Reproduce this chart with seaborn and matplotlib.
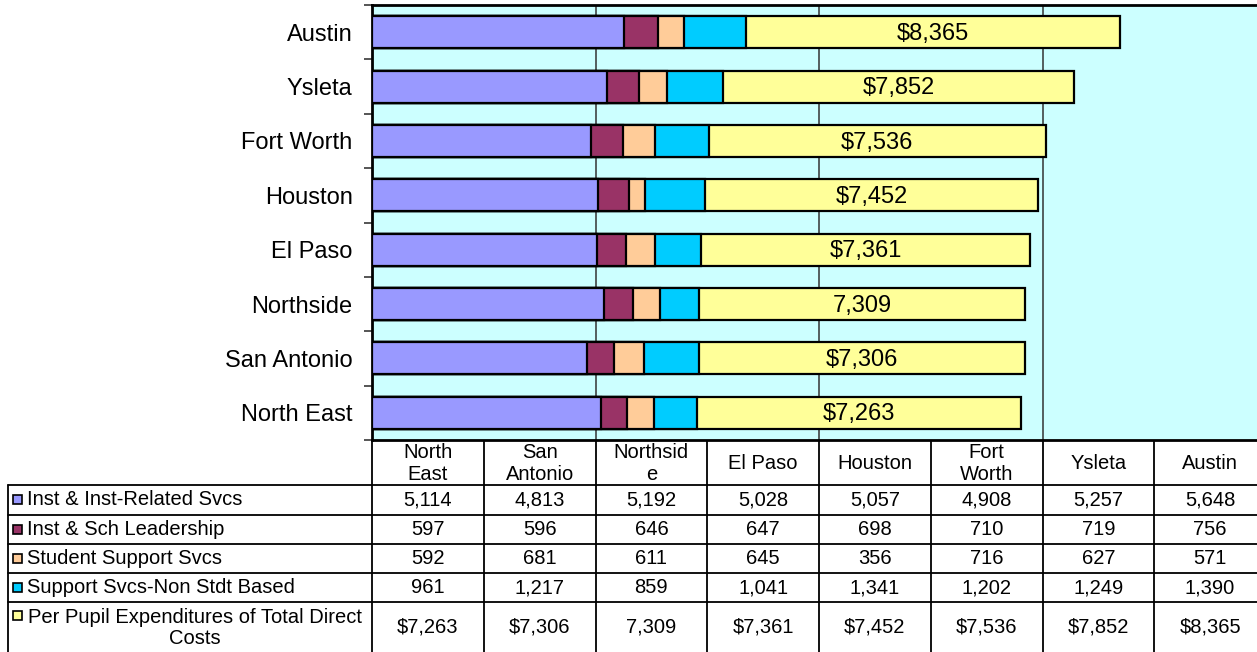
import numpy as np
import pandas as pd
import seaborn as sns
import matplotlib.pyplot as plt
from matplotlib.patches import Rectangle

# data, in table order (left to right)
districts = ["North East", "San Antonio", "Northside", "El Paso",
             "Houston", "Fort Worth", "Ysleta", "Austin"]
header_labels = ["North\nEast", "San\nAntonio", "Northsid\ne", "El Paso",
                 "Houston", "Fort\nWorth", "Ysleta", "Austin"]
inst = [5114, 4813, 5192, 5028, 5057, 4908, 5257, 5648]
leadership = [597, 596, 646, 647, 698, 710, 719, 756]
student_support = [592, 681, 611, 645, 356, 716, 627, 571]
support_non_stdt = [961, 1217, 859, 1041, 1341, 1202, 1249, 1390]
per_pupil = [7263, 7306, 7309, 7361, 7452, 7536, 7852, 8365]
per_pupil_labels = ["$7,263", "$7,306", "7,309", "$7,361",
                    "$7,452", "$7,536", "$7,852", "$8,365"]
series_names = ["Inst & Inst-Related Svcs", "Inst & Sch Leadership",
                "Student Support Svcs", "Support Svcs-Non Stdt Based",
                "Per Pupil Expenditures of Total Direct\nCosts"]
colors = ["#9999FF", "#993366", "#FFCC99", "#00CCFF", "#FFFF99"]

sns.set_style("white")
plt.rcParams["font.family"] = ["Liberation Sans", "DejaVu Sans"]
plt.rcParams["text.color"] = "black"
plt.rcParams["ytick.labelcolor"] = "black"

W, H = 1257, 652
fig = plt.figure(figsize=(W / 100, H / 100), dpi=100)
L, T, B, PW = 372, 5, 440, 894
ax = fig.add_axes([L / W, (H - B) / H, PW / W, (B - T) / H])

series = np.array([inst, leadership, student_support, support_non_stdt, per_pupil])
cum = np.cumsum(series, axis=0)
df = pd.DataFrame(cum.T, columns=[f"c{k}" for k in range(5)])
df["district"] = districts
df = df.iloc[::-1].reset_index(drop=True)
order = list(df["district"])

# stacked bars by layering cumulative totals
for k in reversed(range(5)):
    sns.barplot(data=df, x=f"c{k}", y="district", order=order, color=colors[k],
                saturation=1, edgecolor="black", linewidth=1.6, width=0.59,
                orient="h", errorbar=None, ax=ax, zorder=3)

lab_map = dict(zip(districts, per_pupil_labels))
for i, row in df.iterrows():
    mid = (row["c3"] + row["c4"]) / 2
    ax.text(mid, i + 0.03, lab_map[row["district"]], ha="center", va="center",
            fontsize=17, color="black", zorder=5)

ax.set_facecolor("#CCFFFF")
ax.set_xlim(0, 20000)
ax.set_ylim(len(order) - 0.5, -0.5)
ax.set_xticks([5000, 10000, 15000])
ax.set_xticklabels([])
ax.tick_params(axis="x", length=0)
ax.grid(axis="x", color="#333333", linewidth=1.1, zorder=0)
ax.set_axisbelow(True)
ax.set_xlabel("")
ax.set_ylabel("")
ax.tick_params(axis="y", which="major", length=0, pad=14, labelsize=17,
               labelcolor="black")
ax.set_yticks(np.arange(-0.5, len(order)), minor=True)
ax.tick_params(axis="y", which="minor", left=True, direction="out",
               length=6, width=1.4, color="#555555")
for s in ["left", "top", "bottom"]:
    ax.spines[s].set_color("black")
    ax.spines[s].set_linewidth(2)
ax.spines["right"].set_visible(False)

# data table below the chart
tab = fig.add_axes([0, 0, 1, 1], zorder=-1)
tab.set_xlim(0, W)
tab.set_ylim(H, 0)
tab.axis("off")
col_w = PW / 8
col_x = [L + i * col_w for i in range(9)]
row_y = [B, 485, 514.5, 544, 573, 602, 660]
lw = 1.3
for x in col_x:
    tab.plot([x, x], [B, row_y[-1]], color="black", lw=lw)
tab.plot([8, 8], [row_y[1], row_y[-1]], color="black", lw=lw)
for y in row_y[1:-1]:
    tab.plot([8, col_x[-1]], [y, y], color="black", lw=lw)

fs = 14.5
for j, lab in enumerate(header_labels):
    tab.text(col_x[j] + col_w / 2, (row_y[0] + row_y[1]) / 2 + 1, lab,
             ha="center", va="center", fontsize=fs, linespacing=1.15)

table_rows = [[f"{v:,}" for v in inst], [f"{v:,}" for v in leadership],
              [f"{v:,}" for v in student_support],
              [f"{v:,}" for v in support_non_stdt], per_pupil_labels]
for r in range(5):
    yc = (row_y[r + 1] + row_y[r + 2]) / 2
    if r == 4:
        yc = 627
        tab.text(195, yc + 1, series_names[r], ha="center", va="center",
                 fontsize=fs, linespacing=1.15, multialignment="center")
        sq_y = 615
    else:
        tab.text(27, yc, series_names[r], ha="left", va="center", fontsize=fs)
        sq_y = yc
    tab.add_patch(Rectangle((13, sq_y - 4.5), 9, 9, facecolor=colors[r],
                            edgecolor="black", lw=1.2))
    for j in range(8):
        tab.text(col_x[j] + col_w / 2, yc, table_rows[r][j], ha="center",
                 va="center", fontsize=fs)

fig.savefig("out.png", dpi=100)
